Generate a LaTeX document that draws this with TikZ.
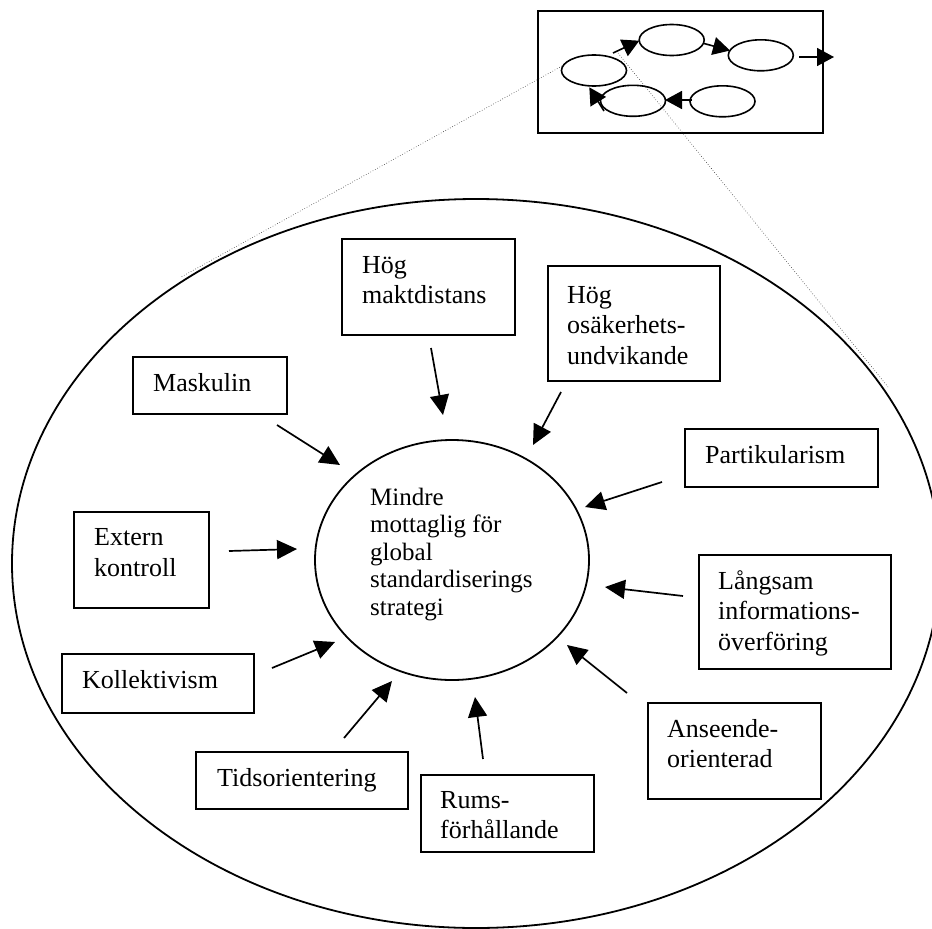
\documentclass[tikz,border=0pt]{standalone}
\usepackage{fontspec}
\setmainfont{Liberation Serif}
\usetikzlibrary{arrows.meta,shapes.geometric}
\tikzset{
  boxst/.style={draw, line width=1.8pt, rectangle, inner sep=0pt, anchor=north west},
  txt/.style={font=\fontsize{26}{30.5}\selectfont, align=left, inner sep=0pt, anchor=base west},
  ctxt/.style={font=\fontsize{25}{27.5}\selectfont, align=left, inner sep=0pt, anchor=base west},
  bigarrow/.style={line width=1.7pt, -{Triangle[length=20pt,width=19pt]}},
  smallarrow/.style={line width=1.6pt, -{Triangle[length=17pt,width=18pt]}},
  oval/.style={draw, ellipse, line width=1.8pt, inner sep=0pt},
  dotline/.style={line width=0.6pt, dotted, black!80}
}
\begin{document}
\begin{tikzpicture}[x=1pt,y=-1pt]
\useasboundingbox (0,0) rectangle (932,929);
\clip (0,0) rectangle (932,929);
\fill[white] (0,0) rectangle (932,929);

% main ellipse and centre
\node[oval, minimum width=928pt, minimum height=729pt] (outer) at (476,563.5) {};
\node[oval, minimum width=274pt, minimum height=240pt] (centre) at (452,560) {};
\node[ctxt] (ctext) at (370,615) {Mindre\\mottaglig för\\global\\standardiserings\\strategi};

% small diagram
\node[boxst, minimum width=285pt, minimum height=122pt] (small) at (537,10) {};
\node[oval, line width=1.6pt, minimum width=65pt, minimum height=31pt] (e1) at (594,70.5) {};
\node[oval, line width=1.6pt, minimum width=65pt, minimum height=31pt] (e2) at (671.7,40) {};
\node[oval, line width=1.6pt, minimum width=65pt, minimum height=31pt] (e3) at (760.8,55.3) {};
\node[oval, line width=1.6pt, minimum width=65pt, minimum height=31pt] (e4) at (633,100.8) {};
\node[oval, line width=1.6pt, minimum width=65pt, minimum height=31pt] (e5) at (722.5,101.3) {};
\coordinate (s12a) at (613,53);   \coordinate (s12b) at (639.3,40.7);
\coordinate (s23a) at (704,43.5); \coordinate (s23b) at (730,50.5);
\coordinate (s3oa) at (799,57);   \coordinate (s3ob) at (834,57);
\coordinate (s54a) at (692,100);  \coordinate (s54b) at (665,100);
\coordinate (s41a) at (604,111);  \coordinate (s41b) at (589.3,87.3);
\draw[smallarrow] (s12a) -- (s12b);
\draw[smallarrow] (s23a) -- (s23b);
\draw[smallarrow] (s3oa) -- (s3ob);
\draw[smallarrow] (s54a) -- (s54b);
\draw[smallarrow] (s41a) -- (s41b);

% dotted zoom lines
\coordinate (d1a) at (181.7,276.7); \coordinate (d1b) at (562,66);
\coordinate (d2a) at (618,53);      \coordinate (d2b) at (888,387);
\draw[dotline] (d1a) -- (d1b);
\draw[dotline] (d2a) -- (d2b);

% boxes
\node[boxst, minimum width=173pt, minimum height=96pt] (makt) at (341,238) {};
\node[txt] (tmakt) at (362,303.5) {Hög\\maktdistans};
\node[boxst, minimum width=172pt, minimum height=115pt] (osak) at (547,265) {};
\node[txt] (tosak) at (567,364) {Hög\\osäkerhets-\\undvikande};
\node[boxst, minimum width=154pt, minimum height=57pt] (mask) at (132,356) {};
\node[txt] (tmask) at (153,391) {Maskulin};
\node[boxst, minimum width=193pt, minimum height=58pt] (part) at (684,428) {};
\node[txt] (tpart) at (705,463) {Partikularism};
\node[boxst, minimum width=135pt, minimum height=96pt] (ext) at (73,511) {};
\node[txt] (text) at (94,576) {Extern\\kontroll};
\node[boxst, minimum width=192pt, minimum height=114pt] (lang) at (698,554) {};
\node[txt] (tlang) at (718,650) {Långsam\\informations-\\överföring};
\node[boxst, minimum width=192pt, minimum height=59pt] (koll) at (61,653) {};
\node[txt] (tkoll) at (82,688) {Kollektivism};
\node[boxst, minimum width=173pt, minimum height=96pt] (anse) at (647,702) {};
\node[txt] (tanse) at (667,767.5) {Anseende-\\orienterad};
\node[boxst, minimum width=212pt, minimum height=57pt] (tids) at (195,751) {};
\node[txt] (ttids) at (217,786) {Tidsorientering};
\node[boxst, minimum width=173pt, minimum height=77pt] (rums) at (420,774) {};
\node[txt] (trums) at (440,838.5) {Rums-\\förhållande};

% arrows toward the centre
\coordinate (a1s) at (431,348); \coordinate (a1e) at (443,415);
\coordinate (a2s) at (561,392); \coordinate (a2e) at (533,445);
\coordinate (a3s) at (277,425); \coordinate (a3e) at (340,465);
\coordinate (a4s) at (662,482); \coordinate (a4e) at (585,507);
\coordinate (a5s) at (229,551); \coordinate (a5e) at (297,549);
\coordinate (a6s) at (683,596); \coordinate (a6e) at (605,587);
\coordinate (a7s) at (272,668); \coordinate (a7e) at (335,642);
\coordinate (a8s) at (627,693); \coordinate (a8e) at (567,645);
\coordinate (a9s) at (344,738); \coordinate (a9e) at (392,681);
\coordinate (a10s) at (483,759); \coordinate (a10e) at (475,697);
\foreach \i in {1,...,10} {\draw[bigarrow] (a\i s) -- (a\i e);}
\end{tikzpicture}
\end{document}
